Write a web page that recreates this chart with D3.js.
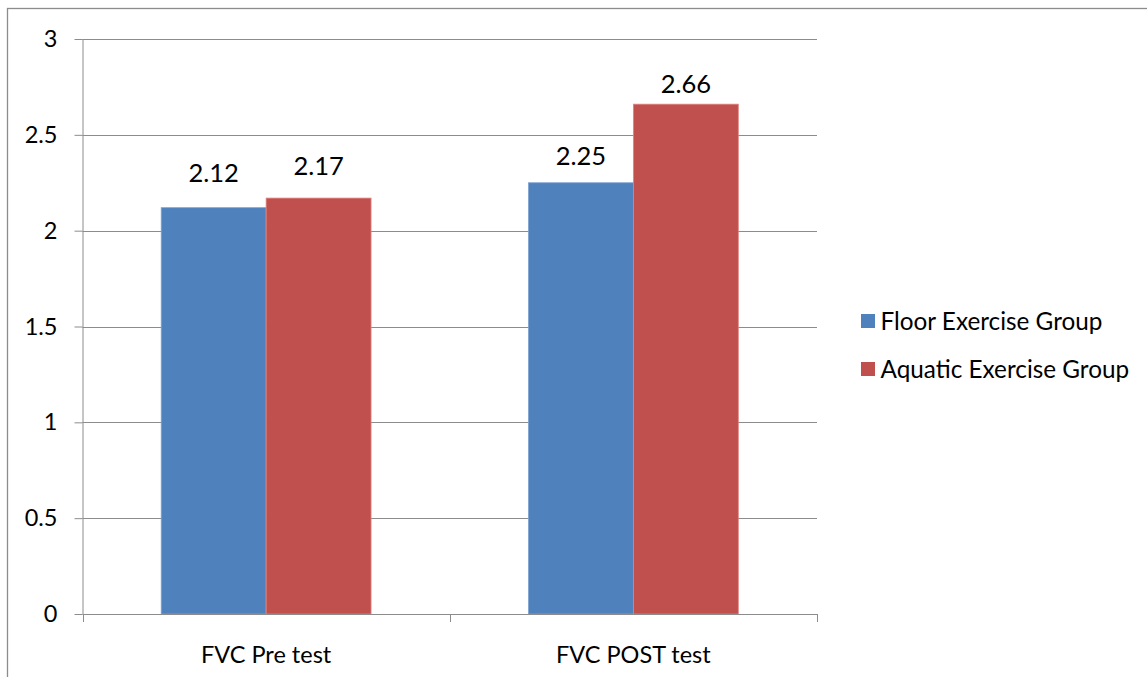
<!DOCTYPE html>
<html>
<head>
<meta charset="utf-8">
<script src="https://cdn.jsdelivr.net/npm/d3@7"></script>
<style>
  html, body { margin: 0; padding: 0; background: #ffffff; }
  svg { display: block; font-family: Lato, "Open Sans", "Liberation Sans", sans-serif; }
</style>
</head>
<body>
<svg id="chart" width="1147" height="677"></svg>
<script>
// FVC values per test (rows) for each exercise group (columns)
const categories = ["FVC Pre test", "FVC POST test"];
const seriesNames = ["Floor Exercise Group", "Aquatic Exercise Group"];
const floorValues = [2.12, 2.25];
const aquaticValues = [2.17, 2.66];
const yTicks = [0, 0.5, 1, 1.5, 2, 2.5, 3];

const seriesValues = [floorValues, aquaticValues];
const colors = ["#4F81BD", "#C0504D"];
const edgeColors = ["#7fa3d1", "#e08583"];
// distance in px from the top of each bar to the baseline of its value label
const labelGap = [[26, 23], [18, 11]];

const svg = d3.select("#chart");
const plot = { left: 82.5, right: 817, top: 39, bottom: 614 };

// outer chart frame (right and bottom edges run past the canvas)
svg.append("rect")
  .attr("x", 7.5).attr("y", 8.5)
  .attr("width", 1160).attr("height", 690)
  .attr("fill", "none").attr("stroke", "#8c8c8c").attr("stroke-width", 1.3);

const x0 = d3.scaleBand().domain(categories).range([plot.left, plot.right]).paddingInner(0).paddingOuter(0);
const barW = x0.bandwidth() / 3.5;          // gap width 150% between clusters
const x1 = d3.scaleBand().domain(seriesNames).range([0, barW * 2]);
const y = d3.scaleLinear().domain([0, 3]).range([plot.bottom, plot.top]);

// horizontal gridlines
svg.append("g")
  .selectAll("line")
  .data(yTicks.filter(t => t > 0))
  .join("line")
  .attr("x1", plot.left).attr("x2", plot.right)
  .attr("y1", d => Math.round(y(d)) + 0.5).attr("y2", d => Math.round(y(d)) + 0.5)
  .attr("stroke", "#8c8c8c").attr("stroke-width", 1);

// bars
const groups = svg.append("g")
  .selectAll("g")
  .data(categories)
  .join("g")
  .attr("transform", d => `translate(${x0(d) + barW * 0.75},0)`);

groups.selectAll("rect")
  .data((c, ci) => seriesNames.map((s, si) => ({ s, si, ci, v: seriesValues[si][ci] })))
  .join("rect")
  .attr("x", d => x1(d.s))
  .attr("width", x1.bandwidth())
  .attr("y", d => y(d.v))
  .attr("height", d => y(0) - y(d.v))
  .attr("fill", d => colors[d.si])
  .attr("stroke", d => edgeColors[d.si])
  .attr("stroke-width", 0.8);

// value labels
groups.selectAll("text")
  .data((c, ci) => seriesNames.map((s, si) => ({ s, si, ci, v: seriesValues[si][ci] })))
  .join("text")
  .attr("x", d => x1(d.s) + x1.bandwidth() / 2)
  .attr("y", d => y(d.v) - labelGap[d.ci][d.si])
  .attr("text-anchor", "middle")
  .attr("font-size", 25.5)
  .attr("fill", "#000")
  .text(d => d.v.toFixed(2));

// y axis
const yAxis = d3.axisLeft(y).tickValues(yTicks).tickSize(8).tickPadding(17).tickFormat(d => d);
const gy = svg.append("g")
  .attr("transform", `translate(${plot.left},0)`)
  .call(yAxis);
gy.attr("font-family", null);
gy.select(".domain").attr("stroke", "#8c8c8c").attr("d", `M0.5,${plot.top}V${plot.bottom}`);
gy.selectAll(".tick line").attr("stroke", "#8c8c8c");
gy.selectAll(".tick text").attr("font-size", 23.5).attr("fill", "#000");

// x axis
const xAxis = d3.axisBottom(x0).tickSize(0).tickPadding(32);
const gx = svg.append("g")
  .attr("transform", `translate(0,${plot.bottom})`)
  .call(xAxis);
gx.attr("font-family", null);
gx.select(".domain").attr("stroke", "#8c8c8c").attr("d", `M${plot.left},0.5H${plot.right}`);
gx.selectAll(".tick text").attr("font-size", 23.5).attr("fill", "#000");
// tick marks at the category boundaries
gx.selectAll("line.edge")
  .data([plot.left, ...categories.map(c => x0(c) + x0.bandwidth())])
  .join("line")
  .attr("class", "edge")
  .attr("x1", d => Math.round(d) + 0.5).attr("x2", d => Math.round(d) + 0.5)
  .attr("y1", 0).attr("y2", 8)
  .attr("stroke", "#8c8c8c");

// legend
const legend = svg.append("g").attr("transform", "translate(861,321)");
const items = legend.selectAll("g")
  .data(seriesNames)
  .join("g")
  .attr("transform", (d, i) => `translate(0,${i * 48})`);
items.append("rect")
  .attr("x", 0).attr("y", -7)
  .attr("width", 14).attr("height", 14)
  .attr("fill", (d, i) => colors[i]);
items.append("text")
  .attr("x", 19.5).attr("y", 0)
  .attr("dy", "0.35em")
  .attr("font-size", 24.3)
  .attr("fill", "#000")
  .text(d => d);
</script>
</body>
</html>
